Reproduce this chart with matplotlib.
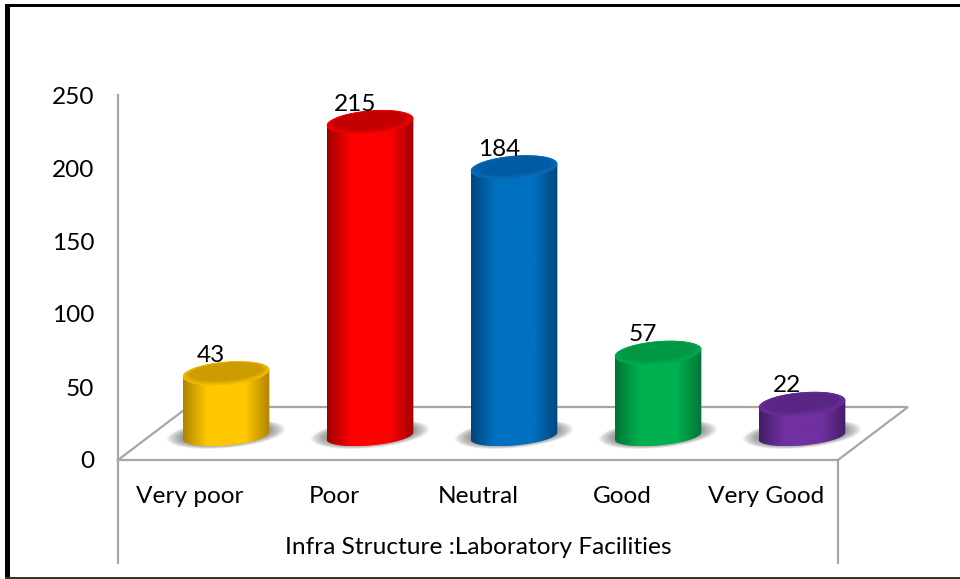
import numpy as np
import matplotlib
matplotlib.use("Agg")
import matplotlib.pyplot as plt
from matplotlib.patches import Polygon, Rectangle
from matplotlib.colors import LinearSegmentedColormap, to_rgb

categories = ["Very poor", "Poor", "Neutral", "Good", "Very Good"]
values = [43, 215, 184, 57, 22]
y_ticks = [0, 50, 100, 150, 200, 250]
x_title = "Infra Structure :Laboratory Facilities"

edge_colors = ["#b08400", "#a00000", "#00467c", "#007537", "#451d66"]
mid_colors = ["#ffc800", "#ff0000", "#0070c0", "#00b050", "#7030a0"]
cap_colors = ["#cc9c00", "#c40000", "#005ca2", "#009844", "#5a2686"]
rim_colors = ["#f2bc00", "#f00000", "#0a6cba", "#00aa4e", "#6a2e9a"]

plt.rcParams["font.family"] = ["Lato", "DejaVu Sans"]

W, H = 960, 579
GRAY = "#a6a6a6"
FS = 17.6

# pixels per unit on the two axes
PX_X = 144.0
PX_Y = 1.46

fig = plt.figure(figsize=(W / 100, H / 100), dpi=100)
ax = fig.add_axes([118 / W, 1 - 460 / H, 720 / W, 365 / H])
ax.set_xlim(-0.5, 4.5)
ax.set_ylim(0, 250)


def ell(cx, cy, a, b, t0, t1, rot=5.0):
    # ellipse arc, a and b in pixels, centre in data units
    t = np.radians(np.linspace(t0, t1, 60))
    r = np.radians(rot)
    ex = a * np.cos(t)
    ey = b * np.sin(t)
    px = ex * np.cos(r) - ey * np.sin(r)
    py = ex * np.sin(r) + ey * np.cos(r)
    return np.column_stack([cx + px / PX_X, cy + py / PX_Y])


def gradient_fill(path_pts, c_edge, c_mid, z):
    cmap = LinearSegmentedColormap.from_list(
        "c", [(0, c_edge), (0.28, c_mid), (0.72, c_mid), (1, c_edge)])
    poly = Polygon(path_pts, closed=True, fc="none", ec="none", transform=ax.transData)
    ax.add_patch(poly)
    grad = np.linspace(0, 1, 128).reshape(1, -1)
    x0, x1 = path_pts[:, 0].min(), path_pts[:, 0].max()
    y0, y1 = path_pts[:, 1].min(), path_pts[:, 1].max()
    im = ax.imshow(grad, cmap=cmap, extent=[x0, x1, y0, y1], aspect="auto", zorder=z)
    im.set_clip_path(poly)
    im.set_clip_box(fig.bbox)


# floor of the 3d box
dx = 70 / PX_X
dy = 53 / PX_Y
ax.plot([-0.5, -0.5 + dx, 4.5 + dx, 4.5, -0.5], [0, dy, dy, 0, 0], color=GRAY, lw=1.6,
        clip_on=False, zorder=1, solid_joinstyle="miter")
# category axis bracket below the floor
low = -103 / PX_Y
ax.plot([-0.5, -0.5], [0, low], color=GRAY, lw=1.6, clip_on=False, zorder=1)
ax.plot([4.5, 4.5], [0, low], color=GRAY, lw=1.6, clip_on=False, zorder=1)

base_x = 36 / PX_X
base_y = 24 / PX_Y
A = 43.5
B_TOP, B_BOT = 11.5, 9.5

for i, v in enumerate(values):
    cx = i + base_x

    # soft shadow on the floor
    for k in range(10):
        f = 1 - k * 0.035
        ax.add_patch(Polygon(ell(cx, base_y + 2 / PX_Y, 59 * f, 14 * f, 0, 360), closed=True,
                             fc="#555555", ec="none", alpha=0.1, zorder=2, clip_on=False))

    top = base_y + v
    body = np.vstack([ell(cx, base_y, A, B_BOT, 180, 360), ell(cx, top, A, B_TOP, 0, 180)])
    gradient_fill(body, edge_colors[i], mid_colors[i], 3)

    # top of the cylinder, rim fading into the darker face
    c0 = np.array(to_rgb(rim_colors[i]))
    c1 = np.array(to_rgb(cap_colors[i]))
    for k in range(6):
        s = k / 5
        ax.add_patch(Polygon(ell(cx, top + s * 1.5 / PX_Y, A - s * 7, B_TOP - s * 3, 0, 360),
                             closed=True, fc=tuple(c0 + (c1 - c0) * s), ec="none",
                             zorder=4 + k * 0.1, clip_on=False))

    ax.text(i + 21 / PX_X, top + 18 / PX_Y, str(v), ha="center", va="center", fontsize=FS,
            color="black", zorder=6, clip_on=False)

for side in ["top", "right", "bottom"]:
    ax.spines[side].set_visible(False)
ax.spines["left"].set_color(GRAY)
ax.spines["left"].set_linewidth(1.6)

ax.set_yticks(y_ticks)
ax.set_xticks(range(len(categories)))
ax.set_xticklabels(categories)
ax.tick_params(axis="y", length=0, pad=17, labelsize=FS)
ax.tick_params(axis="x", length=0, pad=18.5, labelsize=FS)
ax.text(2, -88 / PX_Y, x_title, ha="center", va="center", fontsize=FS, color="black", clip_on=False)

# black frame round the picture
fig.add_artist(Rectangle((5 / W, 0), 5 / W, 1 - 4 / H, transform=fig.transFigure, fc="black", ec="none"))
fig.add_artist(Rectangle((5 / W, 1 - 7 / H), 1 - 5 / W, 3 / H, transform=fig.transFigure, fc="black", ec="none"))
fig.add_artist(Rectangle((5 / W, 0), 1 - 5 / W, 2 / H, transform=fig.transFigure, fc="#333333", ec="none"))

fig.savefig("out.png", dpi=100)
